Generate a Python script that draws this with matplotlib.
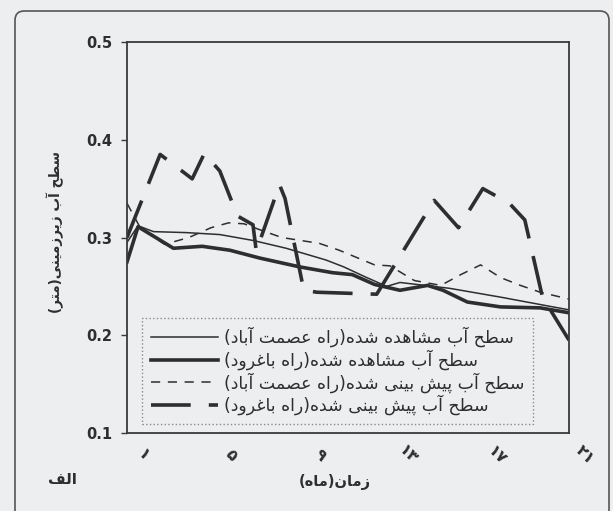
import matplotlib
matplotlib.use("Agg")
import matplotlib.pyplot as plt
import matplotlib.transforms as mtransforms
from matplotlib.patches import FancyBboxPatch

# ---------------- data ----------------
months_obs_esmat = [1.0, 1.5, 2.2, 3.7, 5.2, 6.7, 8.2, 10.0, 10.8, 11.85, 12.75, 13.35, 15.6, 17.9, 19.8, 21.0]
level_obs_esmat = [0.295, 0.312, 0.306, 0.305, 0.303, 0.297, 0.289, 0.277, 0.270, 0.259, 0.250, 0.254, 0.248, 0.239, 0.231, 0.226]

months_obs_bagh = [1.0, 1.5, 3.1, 4.4, 5.65, 7.0, 8.8, 10.3, 11.2, 12.2, 13.35, 14.6, 15.3, 16.4, 17.9, 19.7, 21.0]
level_obs_bagh = [0.275, 0.311, 0.289, 0.291, 0.287, 0.279, 0.270, 0.264, 0.262, 0.252, 0.246, 0.251, 0.246, 0.234, 0.229, 0.228, 0.223]

months_pred_esmat = [1.0, 1.6, 2.7, 3.8, 4.8, 5.6, 6.3, 7.0, 8.0, 9.7, 10.6, 11.45, 12.2, 12.9, 14.0, 15.2, 16.1, 17.0, 17.9, 18.8, 19.7, 21.0]
level_pred_esmat = [0.335, 0.310, 0.293, 0.300, 0.310, 0.315, 0.314, 0.308, 0.300, 0.294, 0.287, 0.279, 0.272, 0.271, 0.256, 0.251, 0.262, 0.272, 0.259, 0.251, 0.244, 0.237]

months_pred_bagh = [1.0, 2.5, 3.95, 4.5, 5.2, 6.0, 6.7, 6.85, 7.9, 8.15, 9.0, 9.6, 12.3, 14.9, 16.0, 17.1, 18.3, 19.0, 19.8, 21.0]
level_pred_bagh = [0.300, 0.385, 0.360, 0.386, 0.368, 0.322, 0.313, 0.286, 0.354, 0.340, 0.246, 0.244, 0.242, 0.338, 0.310, 0.350, 0.335, 0.318, 0.239, 0.195]

x_ticks = [1, 5, 9, 13, 17, 21]
x_tick_labels = ["۱", "۵", "۹", "۱۳", "۱۷", "۲۱"]
y_ticks = [0.1, 0.2, 0.3, 0.4, 0.5]
y_tick_labels = ["0.1", "0.2", "0.3", "0.4", "0.5"]

series_names = [
    "سطح آب مشاهده شده(راه عصمت آباد)",
    "سطح آب مشاهده شده(راه باغرود)",
    "سطح آب پیش بینی شده(راه عصمت آباد)",
    "سطح آب پیش بینی شده(راه باغرود)",
]
y_label = "سطح آب زیرزمینی(متر)"
x_label = "زمان(ماه)"
panel_label = "الف"

# ---------------- simple Persian shaping (visual order) ----------------
FORMS = {
    'ا': ('\uFE8D', '\uFE8E', None, None),
    'آ': ('\uFE81', '\uFE82', None, None),
    'ب': ('\uFE8F', '\uFE90', '\uFE91', '\uFE92'),
    'پ': ('\uFB56', '\uFB57', '\uFB58', '\uFB59'),
    'ت': ('\uFE95', '\uFE96', '\uFE97', '\uFE98'),
    'ح': ('\uFEA1', '\uFEA2', '\uFEA3', '\uFEA4'),
    'د': ('\uFEA9', '\uFEAA', None, None),
    'ر': ('\uFEAD', '\uFEAE', None, None),
    'ز': ('\uFEAF', '\uFEB0', None, None),
    'س': ('\uFEB1', '\uFEB2', '\uFEB3', '\uFEB4'),
    'ش': ('\uFEB5', '\uFEB6', '\uFEB7', '\uFEB8'),
    'ص': ('\uFEB9', '\uFEBA', '\uFEBB', '\uFEBC'),
    'ط': ('\uFEC1', '\uFEC2', '\uFEC3', '\uFEC4'),
    'ع': ('\uFEC9', '\uFECA', '\uFECB', '\uFECC'),
    'غ': ('\uFECD', '\uFECE', '\uFECF', '\uFED0'),
    'ف': ('\uFED1', '\uFED2', '\uFED3', '\uFED4'),
    'ل': ('\uFEDD', '\uFEDE', '\uFEDF', '\uFEE0'),
    'م': ('\uFEE1', '\uFEE2', '\uFEE3', '\uFEE4'),
    'ن': ('\uFEE5', '\uFEE6', '\uFEE7', '\uFEE8'),
    'ه': ('\uFEE9', '\uFEEA', '\uFEEB', '\uFEEC'),
    'و': ('\uFEED', '\uFEEE', None, None),
    'ی': ('\uFBFC', '\uFBFD', '\uFBFE', '\uFBFF'),
}


def _dual(c):
    return c in FORMS and FORMS[c][2] is not None


def _joining(c):
    return c in FORMS


def fa(text):
    out = []
    n = len(text)
    for i, c in enumerate(text):
        if c not in FORMS:
            out.append(c)
            continue
        prev = text[i - 1] if i > 0 else ''
        nxt = text[i + 1] if i < n - 1 else ''
        jp = _dual(prev)
        jn = _dual(c) and _joining(nxt)
        iso, fin, ini, med = FORMS[c]
        if jp and jn:
            out.append(med)
        elif jp:
            out.append(fin)
        elif jn:
            out.append(ini)
        else:
            out.append(iso)
    vis = ''.join(reversed(out))
    return vis.translate(str.maketrans({'(': ')', ')': '('}))


# ---------------- figure ----------------
BG = '#eceef0'
INK = '#2e2e2e'
W, H = 613, 511
fig = plt.figure(figsize=(W / 100, H / 100), dpi=100, facecolor=BG)
ax = fig.add_axes([127 / W, 1 - 433 / H, (569 - 127) / W, (433 - 42) / H])
ax.set_facecolor(BG)

ax.plot(months_obs_esmat, level_obs_esmat, color=INK, lw=1.1, label=fa(series_names[0]))
ax.plot(months_obs_bagh, level_obs_bagh, color=INK, lw=2.6, label=fa(series_names[1]))
ax.plot(months_pred_esmat, level_pred_esmat, color=INK, lw=1.1, dashes=(6, 5), label=fa(series_names[2]))
ax.plot(months_pred_bagh, level_pred_bagh, color=INK, lw=2.6, dashes=(11, 5), label=fa(series_names[3]))

ax.set_xlim(1, 21)
ax.set_ylim(0.1, 0.5)
ax.set_yticks(y_ticks, y_tick_labels)
ax.set_xticks(x_ticks, [t for t in x_tick_labels])

for s in ax.spines.values():
    s.set_color('#3a3a3a')
    s.set_linewidth(1.3)

ax.tick_params(axis='y', direction='out', length=4.5, width=1, color='#3a3a3a',
               pad=6, labelsize=10.5, labelcolor=INK)
ax.tick_params(axis='x', length=0, pad=16, labelsize=11.5, labelcolor=INK)
for lab in ax.get_yticklabels():
    lab.set_fontweight('bold')
offset = mtransforms.ScaledTranslation(16 / 100, 0, fig.dpi_scale_trans)
for lab in ax.get_xticklabels():
    lab.set_rotation(-45)
    lab.set_rotation_mode('anchor')
    lab.set_ha('center')
    lab.set_va('center')
    lab.set_fontweight('bold')
    lab.set_transform(lab.get_transform() + offset)

leg = ax.legend(loc='upper left', bbox_to_anchor=((142 - 127) / 442, (433 - 318) / 391),
                borderaxespad=0, fontsize=12.5, handlelength=3.9, handletextpad=0.3,
                labelspacing=0.12, borderpad=0.5, frameon=True, fancybox=False)
fr = leg.get_frame()
fr.set_facecolor(BG)
fr.set_edgecolor('#8a8a8a')
fr.set_linestyle(':')
fr.set_linewidth(1.0)
fr.set_alpha(1)
for t in leg.get_texts():
    t.set_color(INK)

fig.text(55 / W, 1 - 232 / H, fa(y_label), rotation=90, ha='center', va='center',
         fontsize=9.8, fontweight='bold', color=INK)
fig.text(335 / W, 1 - 482 / H, fa(x_label), ha='center', va='center',
         fontsize=10.5, fontweight='bold', color=INK)
fig.text(62 / W, 1 - 480 / H, fa(panel_label), ha='center', va='center',
         fontsize=11, fontweight='bold', color=INK)

frame = FancyBboxPatch((15 / W, -20 / H), (609 - 15) / W, (11 + 20 + (H - 22)) / H,
                       boxstyle="round,pad=0,rounding_size=0.015", mutation_aspect=W / H,
                       transform=fig.transFigure, facecolor='none', edgecolor='#555555',
                       linewidth=1.2, clip_on=False)
fig.add_artist(frame)

fig.savefig('out.png', dpi=100, facecolor=BG)
